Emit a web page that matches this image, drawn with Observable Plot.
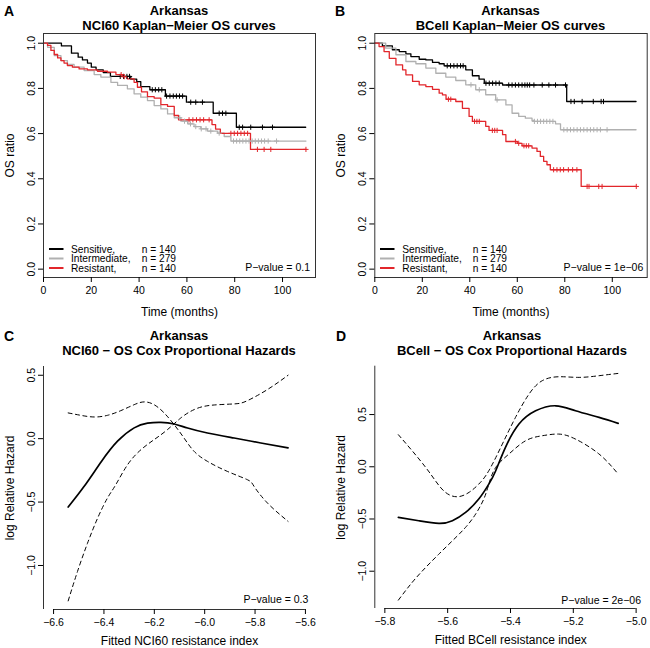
<!DOCTYPE html>
<html><head><meta charset="utf-8">
<script src="https://cdn.jsdelivr.net/npm/d3@7"></script>
<script src="https://cdn.jsdelivr.net/npm/@observablehq/plot@0.6"></script>
<style>
body{margin:0;background:#fff;}
#fig{position:relative;width:650px;height:648px;overflow:hidden;background:#fff;font-family:"Liberation Sans",Arial,Helvetica,sans-serif;}
#fig > div.panel{position:absolute;}
#overlay{position:absolute;left:0;top:0;pointer-events:none;}
</style></head><body><div id="fig"></div>
<script>
// ---------------- data ----------------
const kmTimeTicks = [0, 20, 40, 60, 80, 100];
const kmRatioTicks = [0, 0.2, 0.4, 0.6, 0.8, 1.0];
const groupNames = ["Sensitive,", "Intermediate,", "Resistant,"];
const groupCounts = [140, 279, 140];

// Panel A: NCI60 Kaplan-Meier OS curves  [time (months), OS ratio]
const nciSensitive = [[0,1],[7.5,0.988],[11.7,0.956],[14.5,0.938],[16.3,0.926],[18.4,0.912],[20,0.894],[22,0.882],[25,0.87],[28,0.853],[36.5,0.841],[39,0.83],[40.7,0.808],[44.5,0.794],[51,0.766],[59.8,0.739],[71,0.69],[80.7,0.628],[109.7,0.628]];
const nciIntermediate = [[0,1],[1.7,0.982],[4.5,0.945],[7.3,0.923],[10,0.906],[12.8,0.894],[17,0.879],[21.2,0.861],[24,0.85],[28.2,0.827],[31,0.813],[35.1,0.798],[37.9,0.776],[40.7,0.761],[43.5,0.746],[46.3,0.724],[49.1,0.709],[51.9,0.687],[54.7,0.67],[57.5,0.655],[60.3,0.643],[63,0.631],[65.8,0.621],[68.6,0.611],[72.8,0.602],[75.6,0.587],[78.4,0.567],[109.8,0.567]];
const nciResistant = [[0,1],[1.7,0.99],[3.1,0.968],[4.5,0.95],[5.9,0.935],[7.3,0.923],[8.6,0.912],[10,0.901],[12.1,0.894],[14.9,0.886],[18.4,0.882],[22.6,0.876],[26.8,0.872],[30.3,0.861],[33.1,0.852],[35.1,0.842],[37.9,0.827],[39.3,0.805],[41,0.785],[43.5,0.764],[46.3,0.757],[49.1,0.728],[51.9,0.72],[54.7,0.68],[56.5,0.661],[70.5,0.64],[72,0.62],[74,0.601],[86.6,0.53],[109.8,0.53]];
const nciSensitiveCensored = [32.1,33.5,34.9,36.0,45.5,46.8,48.2,49.5,51.5,52.9,54.3,55.6,56.9,58.2,61.6,63.7,66.5,73.5,74.9,76.3,81.9,83.3,86.7,91.6,95.8];
const nciIntermediateCensored = [57,59,61.5,63.7,66,68,70,73.5,79.5,80.8,82.1,83.4,84.7,86,87.3,88.6,89.9,91.2,92.5,94,97.5];
const nciResistantCensored = [32.5,33.8,60.9,62.5,64,65.5,67,69.3,78.4,79.8,81.2,82.6,84,85.4,89.5,92.3,95.1,109.8];

// Panel B: BCell Kaplan-Meier OS curves
const bcellSensitive = [[0,1],[3.2,0.988],[7.4,0.971],[10.3,0.963],[13.1,0.953],[15.2,0.941],[18.7,0.929],[21.5,0.926],[24.3,0.915],[27.1,0.909],[29.2,0.9],[38.3,0.882],[41.1,0.856],[43.9,0.841],[46.1,0.823],[53.8,0.815],[80.8,0.742],[110,0.742]];
const bcellIntermediate = [[0,1],[4.6,0.978],[8.9,0.949],[13.1,0.919],[17.3,0.909],[21.5,0.89],[25.7,0.867],[29.9,0.85],[34.1,0.835],[38.3,0.816],[42.5,0.794],[46.7,0.772],[50.9,0.749],[55.2,0.727],[57.8,0.69],[60.6,0.676],[63.4,0.668],[66.2,0.658],[67,0.654],[76.1,0.643],[78.2,0.617],[110,0.617]];
const bcellResistant = [[0,1],[1.8,0.985],[3.9,0.963],[6.1,0.933],[8.9,0.904],[11.7,0.882],[13.1,0.86],[15.9,0.831],[18.7,0.816],[21.5,0.808],[24.3,0.796],[27.1,0.779],[28.5,0.771],[30,0.752],[34.1,0.742],[36.9,0.712],[39.7,0.676],[41.1,0.654],[46.7,0.632],[48.1,0.614],[53.8,0.595],[55.2,0.565],[60,0.557],[62,0.546],[66.2,0.536],[68.3,0.521],[69.7,0.499],[71.1,0.477],[72.5,0.462],[73.9,0.44],[86.9,0.366],[110.1,0.366]];
const bcellSensitiveCensored = [30.5,31.9,33.3,34.7,36.1,37.2,46.8,48.2,49.6,51.0,52.4,56.4,57.8,59.2,60.6,62.0,63.2,64.2,65.2,67.0,70.5,73.3,76.1,80.3,82.6,84.0,87.3,92.0,95.3,96.3];
const bcellIntermediateCensored = [40.5,44,51.5,67.2,68.5,69.8,71.1,72.4,73.7,75,79.6,81,82.4,83.8,85.2,86.6,88,89.4,90.8,92.2,93.6,95,97.8];
const bcellResistantCensored = [31,32,42,43,44,49.5,50.5,51.5,59.2,60.6,62.8,63.8,64.8,75.3,76.7,78.1,79.5,81.5,83.3,85.1,89.4,90.2,94.3,95.7,110.1];

// Panel C: NCI60 - OS Cox proportional hazards [fitted index, log relative hazard]
const nciIndexTicks = [-6.6, -6.4, -6.2, -6.0, -5.8, -5.6];
const nciHazardTicks = [-1.0, -0.5, 0.0, 0.5];
const nciFit = [[-6.542,-0.539],[-6.48,-0.38],[-6.41,-0.18],[-6.346,-0.02],[-6.28,0.085],[-6.227,0.122],[-6.174,0.129],[-6.121,0.116],[-6.068,0.084],[-5.989,0.045],[-5.883,0.005],[-5.777,-0.034],[-5.669,-0.073]];
const nciBandA = [[-6.542,0.203],[-6.492,0.184],[-6.439,0.171],[-6.386,0.184],[-6.333,0.221],[-6.28,0.268],[-6.24,0.29],[-6.201,0.268],[-6.161,0.203],[-6.121,0.11],[-6.082,0.005],[-6.042,-0.1],[-5.989,-0.179],[-5.91,-0.258],[-5.83,-0.324],[-5.804,-0.376],[-5.751,-0.507],[-5.669,-0.652]];
const nciBandB = [[-6.542,-1.279],[-6.505,-1.047],[-6.465,-0.823],[-6.425,-0.626],[-6.386,-0.468],[-6.353,-0.363],[-6.306,-0.205],[-6.253,-0.087],[-6.201,-0.008],[-6.148,0.071],[-6.095,0.163],[-6.042,0.229],[-5.976,0.263],[-5.883,0.274],[-5.83,0.3],[-5.751,0.387],[-5.669,0.5]];

// Panel D: BCell - OS Cox proportional hazards
const bcellIndexTicks = [-5.8, -5.6, -5.4, -5.2, -5.0];
const bcellHazardTicks = [-1.0, -0.5, 0.0, 0.5];
const bcellFit = [[-5.757,-0.485],[-5.692,-0.517],[-5.628,-0.542],[-5.585,-0.517],[-5.543,-0.437],[-5.501,-0.309],[-5.469,-0.166],[-5.447,-0.038],[-5.416,0.186],[-5.373,0.409],[-5.32,0.536],[-5.256,0.584],[-5.193,0.536],[-5.118,0.473],[-5.057,0.416]];
const bcellBandA = [[-5.757,0.307],[-5.713,0.153],[-5.67,-0.006],[-5.639,-0.134],[-5.607,-0.245],[-5.569,-0.287],[-5.532,-0.245],[-5.501,-0.166],[-5.469,-0.038],[-5.426,0.217],[-5.384,0.473],[-5.341,0.696],[-5.299,0.824],[-5.246,0.862],[-5.182,0.856],[-5.118,0.872],[-5.057,0.894]];
const bcellBandB = [[-5.757,-1.277],[-5.713,-1.107],[-5.67,-0.964],[-5.628,-0.836],[-5.585,-0.709],[-5.543,-0.58],[-5.511,-0.453],[-5.485,-0.309],[-5.469,-0.166],[-5.447,-0.006],[-5.405,0.122],[-5.352,0.249],[-5.299,0.297],[-5.246,0.313],[-5.193,0.265],[-5.118,0.122],[-5.057,-0.07]];

// ---------------- styling ----------------
const FONT = '"Liberation Sans", Arial, Helvetica, sans-serif';
const groupColors = ["#000000", "#b0b0b0", "#e2262b"];
const fig = document.getElementById("fig");

function stepAt(curve, t) {
  let s = curve[0][1];
  for (const [x, y] of curve) { if (x <= t) s = y; else break; }
  return s;
}
const plusSymbol = {
  draw(ctx, size) {
    const r = Math.sqrt(size / Math.PI);
    ctx.moveTo(0, -r); ctx.lineTo(0, r);
    ctx.moveTo(-r, 0); ctx.lineTo(r, 0);
  }
};

function place(svg, left, top) {
  const d = document.createElement("div");
  d.className = "panel";
  d.style.left = left + "px"; d.style.top = top + "px";
  d.appendChild(svg);
  fig.appendChild(d);
}

const fmt1 = d3.format(".1f");

function kmPanel({curves, censored, left, top, marginLeft, marginRight, xMax}) {
  const marks = [];
  curves.forEach((c, i) => marks.push(Plot.line(c, {x: d => d[0], y: d => d[1], curve: "step-after", stroke: groupColors[i], strokeWidth: 1.3})));
  censored.forEach((cs, i) => marks.push(Plot.dot(cs, {x: t => t, y: t => stepAt(curves[i], t), symbol: plusSymbol, r: 2.6, stroke: groupColors[i], fill: "none", strokeWidth: 1})));
  marks.push(Plot.frame({stroke: "#333", strokeWidth: 1}));
  marks.push(Plot.axisX(kmTimeTicks, {tickSize: 5, tickPadding: 4, fontSize: 10.5, label: null}));
  marks.push(Plot.axisX({ticks: [], label: "Time (months)", labelAnchor: "center", labelArrow: "none", labelOffset: 38, fontSize: 12}));
  marks.push(Plot.axisY(kmRatioTicks, {tickSize: 5, tickPadding: 4, tickRotate: -90, textAnchor: "middle", lineAnchor: "bottom", tickFormat: fmt1, fontSize: 10.5, label: null}));
  marks.push(Plot.axisY({ticks: [], label: "OS ratio", labelAnchor: "center", labelArrow: "none", labelOffset: 38, fontSize: 12}));
  const svg = Plot.plot({
    width: 325, height: 324,
    marginLeft, marginRight, marginTop: 33, marginBottom: 47,
    x: {domain: [0, xMax]},
    y: {domain: [-0.037, 1.043]},
    style: {fontFamily: FONT, color: "#000", background: "transparent", overflow: "visible"},
    marks
  });
  place(svg, left, top);
}

function coxPanel({fit, bandA, bandB, xTicks, yTicks, xDomain, yDomain, xLabel, left, top, marginLeft, marginRight, marginTop, marginBottom}) {
  const xy = {x: d => d[0], y: d => d[1], curve: "natural"};
  const marks = [
    Plot.ruleX([xDomain[0]], {stroke: "#333", strokeWidth: 1}),
    Plot.ruleY([yDomain[0]], {x1: xTicks[0], x2: xTicks[xTicks.length - 1], stroke: "#333", strokeWidth: 1}),
    Plot.line(bandA, {...xy, stroke: "#000", strokeWidth: 1, strokeDasharray: "4,3.5"}),
    Plot.line(bandB, {...xy, stroke: "#000", strokeWidth: 1, strokeDasharray: "4,3.5"}),
    Plot.line(fit, {...xy, stroke: "#000", strokeWidth: 1.7}),
    Plot.axisX(xTicks, {tickSize: 5, tickPadding: 4, fontSize: 10.5, tickFormat: fmt1, label: null}),
    Plot.axisX({ticks: [], label: xLabel, labelAnchor: "center", labelArrow: "none", labelOffset: 35, fontSize: 12}),
    Plot.axisY(yTicks, {tickSize: 5, tickPadding: 4, tickRotate: -90, textAnchor: "middle", lineAnchor: "bottom", tickFormat: fmt1, fontSize: 10.5, label: null}),
    Plot.axisY({ticks: [], label: "log Relative Hazard", labelAnchor: "center", labelArrow: "none", labelOffset: 38, fontSize: 12})
  ];
  const svg = Plot.plot({
    width: 325, height: 324,
    marginLeft, marginRight, marginTop, marginBottom,
    x: {domain: xDomain},
    y: {domain: yDomain},
    style: {fontFamily: FONT, color: "#000", background: "transparent", overflow: "visible"},
    marks
  });
  place(svg, left, top);
}

kmPanel({curves: [nciSensitive, nciIntermediate, nciResistant],
  censored: [nciSensitiveCensored, nciIntermediateCensored, nciResistantCensored],
  left: 0, top: 0, marginLeft: 43, marginRight: 10, xMax: 113.8});
kmPanel({curves: [bcellSensitive, bcellIntermediate, bcellResistant],
  censored: [bcellSensitiveCensored, bcellIntermediateCensored, bcellResistantCensored],
  left: 325, top: 0, marginLeft: 49.3, marginRight: 3.3, xMax: 114.7});
coxPanel({fit: nciFit, bandA: nciBandA, bandB: nciBandB, xTicks: nciIndexTicks, yTicks: nciHazardTicks,
  xDomain: [-6.64, -5.56], yDomain: [-1.347, 0.569], xLabel: "Fitted NCI60 resistance index",
  left: 0, top: 324, marginLeft: 43, marginRight: 10, marginTop: 42, marginBottom: 39});
coxPanel({fit: bcellFit, bandA: bcellBandA, bandB: bcellBandB, xTicks: bcellIndexTicks, yTicks: bcellHazardTicks,
  xDomain: [-5.832, -4.966], yDomain: [-1.357, 0.963], xLabel: "Fitted BCell resistance index",
  left: 325, top: 324, marginLeft: 49.3, marginRight: 3.7, marginTop: 41.7, marginBottom: 40});

// ---------------- titles, legends, annotations ----------------
const NS = "http://www.w3.org/2000/svg";
const ov = document.createElementNS(NS, "svg");
ov.setAttribute("id", "overlay");
ov.setAttribute("width", 650); ov.setAttribute("height", 648);
ov.setAttribute("font-family", FONT);
fig.appendChild(ov);
function txt(s, x, y, size, opts = {}) {
  const t = document.createElementNS(NS, "text");
  t.setAttribute("x", x); t.setAttribute("y", y);
  t.setAttribute("font-size", size);
  if (opts.bold) t.setAttribute("font-weight", "bold");
  if (opts.anchor) t.setAttribute("text-anchor", opts.anchor);
  t.setAttribute("fill", "#000");
  t.textContent = s;
  ov.appendChild(t);
}
function seg(x1, x2, y, color) {
  const l = document.createElementNS(NS, "line");
  l.setAttribute("x1", x1); l.setAttribute("x2", x2);
  l.setAttribute("y1", y); l.setAttribute("y2", y);
  l.setAttribute("stroke", color); l.setAttribute("stroke-width", 2);
  ov.appendChild(l);
}
const panelLetters = ["A", "B", "C", "D"];
const titleLine1 = "Arkansas";
const titleLine2 = ["NCI60 Kaplan\u2212Meier OS curves", "BCell Kaplan\u2212Meier OS curves",
  "NCI60 \u2212 OS Cox Proportional Hazards", "BCell \u2212 OS Cox Proportional Hazards"];
const pValues = ["P\u2212value = 0.1", "P\u2212value = 1e\u221206", "P\u2212value = 0.3", "P\u2212value = 2e\u221206"];

const L = [
  {lx: 4, ly: 16, cx: 179, t1: 14.8, t2: 29.8, px: 310, py: 271},
  {lx: 335, ly: 16, cx: 510.5, t1: 14.8, t2: 29.8, px: 643.3, py: 271},
  {lx: 4, ly: 341, cx: 179, t1: 340, t2: 355, px: 308.3, py: 602.5},
  {lx: 336, ly: 341, cx: 512, t1: 340, t2: 355, px: 641, py: 603.5}
];
L.forEach((p, i) => {
  txt(panelLetters[i], p.lx, p.ly, 14, {bold: true});
  txt(titleLine1, p.cx, p.t1, 13, {bold: true, anchor: "middle"});
  txt(titleLine2[i], p.cx, p.t2, 13, {bold: true, anchor: "middle"});
  txt(pValues[i], p.px, p.py, 10.5, {anchor: "end"});
});
// KM legends
[{sx: 49, tx: 71, nx: 141.7}, {sx: 380, tx: 402.3, nx: 472.7}].forEach(p => {
  groupNames.forEach((g, i) => {
    const base = 252.5 + i * 9.5;
    seg(p.sx, p.sx + 14.5, base - 3.5, groupColors[i]);
    txt(g, p.tx, base, 10.2);
    txt("n = " + groupCounts[i], p.nx, base, 10.2);
  });
});
</script></body></html>
